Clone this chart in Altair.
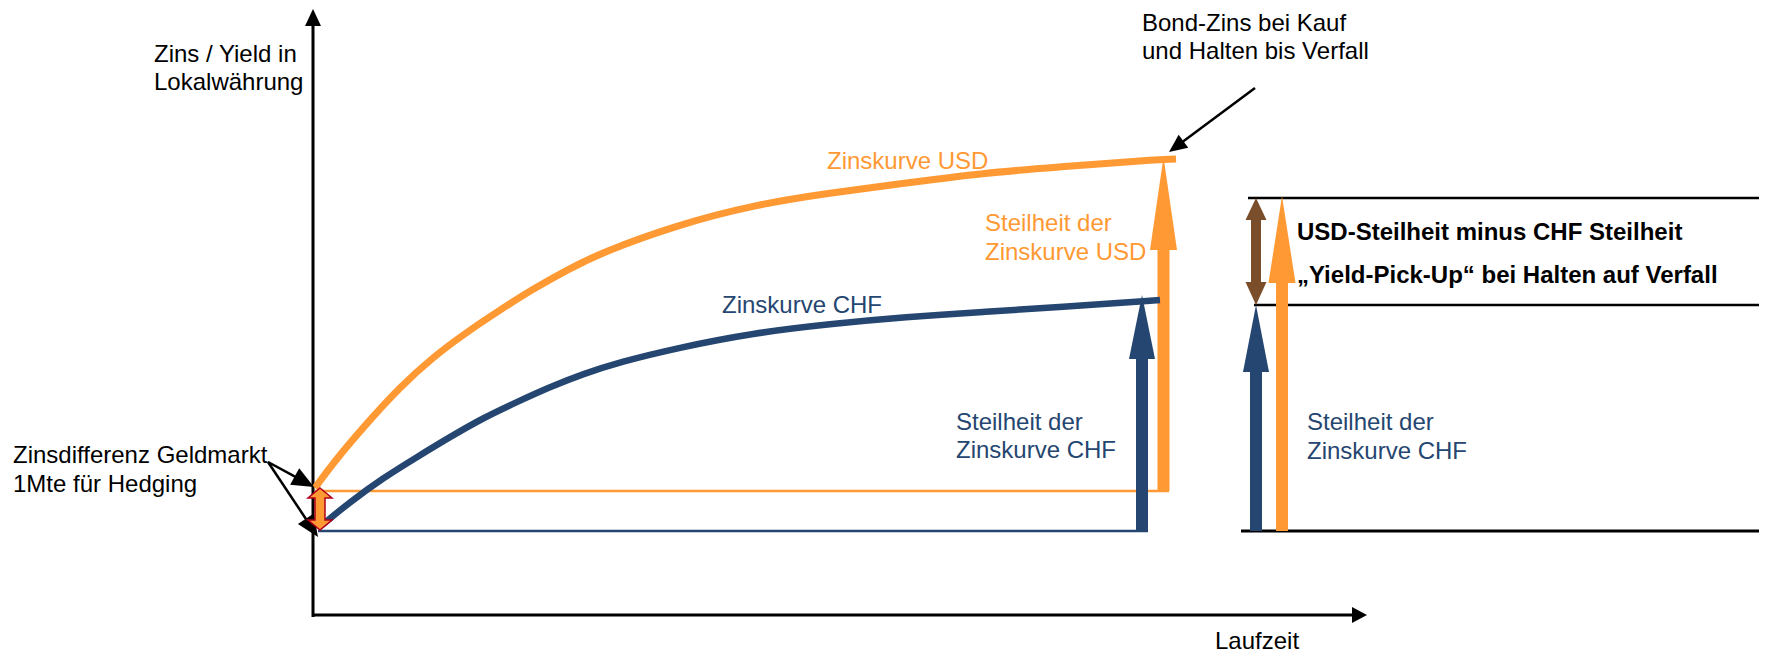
import math
import altair as alt
import pandas as pd

# ---------------- colours ----------------
ORANGE = "#FF9933"
BLUE = "#254670"
BROWN = "#7A4E2B"
BLACK = "#000000"
DARKRED = "#B0001A"

# ---------------- data (diagram units: origin at the axes' crossing) ----------------
usd_x = [2, 20, 54, 87, 120, 154, 187, 220, 254, 287, 364, 440, 517, 593, 670, 746, 823, 863]
usd_y = [127, 152, 192, 228, 258, 283, 305, 326, 345, 362, 390, 410, 422, 432, 442, 448, 454, 456]

chf_x = [9, 37, 70, 104, 137, 170, 204, 237, 270, 307, 364, 440, 517, 593, 670, 746, 847]
chf_y = [90, 113, 137, 158, 178, 197, 213, 228, 241, 253, 267, 282, 291, 298, 303, 308, 315]

# straight segments: x, y, x2, y2, colour, width
seg_x = [0, 0, 2, 5, 850.5, 829, 935, 941, 928, 943, 969, 943]
seg_y = [-2, 0, 124, 84, 124, 84, 417, 310, 84, 395, 84, 84]
seg_x2 = [0, 1041, 856, 835, 850.5, 829, 1454, 1454, 1454, 943, 969, 943]
seg_y2 = [592, 0, 124, 84, 367, 258, 417, 310, 84, 331, 334, 245]
seg_c = [BLACK, BLACK, ORANGE, BLUE, ORANGE, BLUE, BLACK, BLACK, BLACK, BROWN, ORANGE, BLUE]
seg_w = [3, 3, 2.5, 2.5, 12, 12, 2.5, 2.5, 3, 10, 12, 12]

# arrow heads: tip x, tip y, direction (deg, 0 = up), length, half width, colour
head_x = [0, 1054, 850.5, 829, 943, 943, 969, 943]
head_y = [606, 0, 458, 320, 417, 310, 419, 310]
head_a = [0, 90, 0, 0, 0, 180, 0, 0]
head_l = [17, 15, 93, 64, 22, 23, 87, 67]
head_hw = [8, 8, 13.5, 13, 10.5, 10.5, 13.5, 13]
head_c = [BLACK, BLACK, ORANGE, BLUE, BROWN, BROWN, ORANGE, BLUE]

# annotation pointers: start -> tip
ptr_x = [-45, -45, 942]
ptr_y = [153, 153, 527]
ptr_tx = [1, 5, 856]
ptr_ty = [128, 78, 463]
ptr_l = [22, 22, 18]
ptr_hw = [9.5, 9.5, 8]

# small double arrow (Zinsdifferenz Geldmarkt)
dbl_x = [7]
dbl_y = [127]

# texts
txt = [
    ("Zins / Yield in", -159, 553, BLACK),
    ("Lokalwährung", -159, 525, BLACK),
    ("Zinsdifferenz Geldmarkt", -300, 152, BLACK),
    ("1Mte für Hedging", -300, 123, BLACK),
    ("Laufzeit", 902, -34, BLACK),
    ("Zinskurve USD", 514, 446, ORANGE),
    ("Zinskurve CHF", 409, 302, BLUE),
    ("Steilheit der", 672, 384, ORANGE),
    ("Zinskurve USD", 672, 355, ORANGE),
    ("Steilheit der", 643, 185, BLUE),
    ("Zinskurve CHF", 643, 157, BLUE),
    ("Bond-Zins bei Kauf", 829, 584, BLACK),
    ("und Halten bis Verfall", 829, 556, BLACK),
    ("Steilheit der", 994, 185, BLUE),
    ("Zinskurve CHF", 994, 156, BLUE),
]
bold_txt = [
    ("USD-Steilheit minus CHF Steilheit", 984, 375),
    ("\u201eYield-Pick-Up\u201c bei Halten auf Verfall", 984, 332),
]

# ---------------- build tables ----------------
W, H = 1751, 646
XS = alt.Scale(domain=[-305, 1446], nice=False, zero=False)
YS = alt.Scale(domain=[-39, 607], nice=False, zero=False)


def head_path(L, hw):
    return f"M0,0L{hw},{L}L{-hw},{L}Z"


curves = pd.DataFrame(
    {"x": usd_x + chf_x,
     "y": usd_y + chf_y,
     "s": ["USD"] * len(usd_x) + ["CHF"] * len(chf_x),
     "c": [ORANGE] * len(usd_x) + [BLUE] * len(chf_x),
     "w": [7] * len(usd_x) + [6.5] * len(chf_x)}
)

segs = pd.DataFrame({"x": seg_x, "y": seg_y, "x2": seg_x2, "y2": seg_y2, "c": seg_c, "w": seg_w})

heads = pd.DataFrame({
    "x": head_x, "y": head_y, "a": head_a,
    "p": [head_path(l, h) for l, h in zip(head_l, head_hw)], "c": head_c})

# pointer lines + heads
p_rows, ph_rows = [], []
for sx, sy, tx, ty, L, hw in zip(ptr_x, ptr_y, ptr_tx, ptr_ty, ptr_l, ptr_hw):
    dx, dy = tx - sx, ty - sy
    n = math.hypot(dx, dy)
    ex, ey = tx - dx / n * (L - 3), ty - dy / n * (L - 3)
    p_rows.append({"x": sx, "y": sy, "x2": ex, "y2": ey, "c": BLACK, "w": 2.5})
    ang = math.degrees(math.atan2(dx, dy)) % 360
    ph_rows.append({"x": tx, "y": ty, "a": ang, "p": head_path(L, hw), "c": BLACK})
segs = pd.concat([segs, pd.DataFrame(p_rows)], ignore_index=True)
heads = pd.concat([heads, pd.DataFrame(ph_rows)], ignore_index=True)

dbl = pd.DataFrame({"x": dbl_x, "y": dbl_y})
DBL_PATH = "M0,0L12,10L5,10L5,32L12,32L0,42L-12,32L-5,32L-5,10L-12,10Z"

texts = pd.DataFrame(txt, columns=["t", "x", "y", "c"])
btexts = pd.DataFrame(bold_txt, columns=["t", "x", "y"])

# ---------------- layers ----------------
seg_layer = alt.Chart(segs).mark_rule(strokeCap="butt").encode(
    x=alt.X("x:Q", scale=XS, axis=None),
    y=alt.Y("y:Q", scale=YS, axis=None),
    x2="x2:Q", y2="y2:Q",
    color=alt.Color("c:N", scale=None),
    strokeWidth=alt.StrokeWidth("w:Q", scale=None),
)

curve_layer = alt.Chart(curves).mark_line(interpolate="basis", strokeCap="butt").encode(
    x=alt.X("x:Q", scale=XS, axis=None),
    y=alt.Y("y:Q", scale=YS, axis=None),
    detail="s:N",
    color=alt.Color("c:N", scale=None),
    strokeWidth=alt.StrokeWidth("w:Q", scale=None),
)

head_layer = alt.Chart(heads).mark_point(filled=True, opacity=1, strokeWidth=0).encode(
    x=alt.X("x:Q", scale=XS, axis=None),
    y=alt.Y("y:Q", scale=YS, axis=None),
    shape=alt.Shape("p:N", scale=None),
    angle=alt.Angle("a:Q", scale=None),
    color=alt.Color("c:N", scale=None),
    size=alt.value(4),
)

dbl_layer = alt.Chart(dbl).mark_point(
    shape=DBL_PATH, filled=True, fill=ORANGE, stroke=DARKRED, strokeWidth=1.5, opacity=1
).encode(
    x=alt.X("x:Q", scale=XS, axis=None),
    y=alt.Y("y:Q", scale=YS, axis=None),
    size=alt.value(4),
)

text_layer = alt.Chart(texts).mark_text(
    align="left", baseline="alphabetic", font="Liberation Sans", fontSize=24
).encode(
    x=alt.X("x:Q", scale=XS, axis=None),
    y=alt.Y("y:Q", scale=YS, axis=None),
    text="t:N",
    color=alt.Color("c:N", scale=None),
)

btext_layer = alt.Chart(btexts).mark_text(
    align="left", baseline="alphabetic", font="Liberation Sans", fontSize=24,
    fontWeight="bold", color=BLACK
).encode(
    x=alt.X("x:Q", scale=XS, axis=None),
    y=alt.Y("y:Q", scale=YS, axis=None),
    text="t:N",
)

chart = alt.layer(
    seg_layer, curve_layer, head_layer, dbl_layer, text_layer, btext_layer
).properties(
    width=W, height=H, padding=0,
    autosize=alt.AutoSizeParams(type="none"),
    background="white",
).configure_view(stroke=None)

chart.save("out.html", embed_options={"renderer": "svg", "actions": False})
